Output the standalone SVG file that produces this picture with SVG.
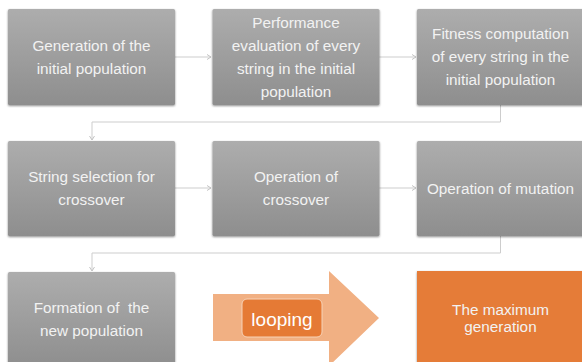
<svg xmlns="http://www.w3.org/2000/svg" width="582" height="362" viewBox="0 0 582 362">
  <defs>
    <linearGradient id="grayFill" x1="0" y1="0" x2="0" y2="1">
      <stop offset="0" stop-color="#adadad"/>
      <stop offset="1" stop-color="#8e8e8e"/>
    </linearGradient>
    <filter id="soft" x="-10%" y="-10%" width="120%" height="120%">
      <feGaussianBlur in="SourceAlpha" stdDeviation="1.2"/>
      <feOffset dx="0" dy="0.6" result="b"/>
      <feComponentTransfer><feFuncA type="linear" slope="0.45"/></feComponentTransfer>
      <feMerge><feMergeNode/><feMergeNode in="SourceGraphic"/></feMerge>
    </filter>
    <marker id="chev" markerWidth="8" markerHeight="8" refX="6" refY="4" orient="auto" markerUnits="userSpaceOnUse">
      <path d="M2,1.5 L6,4 L2,6.5" fill="none" stroke="#c4c4c4" stroke-width="1"/>
    </marker>
  </defs>
  <style>
    .box { fill: url(#grayFill); filter: url(#soft); }
    .lbl { font-family: "Liberation Sans", Arial, sans-serif; font-size: 15.3px; fill: #f2f2f2; text-anchor: middle; }
    .conn { fill: none; stroke: #cdcdcd; stroke-width: 1; marker-end: url(#chev); }
  </style>
  <rect width="582" height="362" fill="#ffffff"/>

  <g id="connectors">
    <path class="conn" d="M175,57 H211"/>
    <path class="conn" d="M379,57 H416"/>
    <path class="conn" d="M500.5,105 V122 H92 V140"/>
    <path class="conn" d="M175,188 H211"/>
    <path class="conn" d="M379,188 H416"/>
    <path class="conn" d="M500.5,236 V253 H92 V271"/>
  </g>

  <g id="n1">
    <rect class="box" x="8" y="9" width="167" height="96" rx="1.5"/>
    <text class="lbl" x="91.5" y="51">Generation of the</text>
    <text class="lbl" x="91.5" y="74">initial population</text>
  </g>
  <g id="n2">
    <rect class="box" x="212.5" y="9" width="167" height="96" rx="1.5"/>
    <text class="lbl" x="296" y="28">Performance</text>
    <text class="lbl" x="296" y="51">evaluation of every</text>
    <text class="lbl" x="296" y="74">string in the initial</text>
    <text class="lbl" x="296" y="97">population</text>
  </g>
  <g id="n3">
    <rect class="box" x="417" y="9" width="167" height="96" rx="1.5"/>
    <text class="lbl" x="500.5" y="39">Fitness computation</text>
    <text class="lbl" x="500.5" y="62">of every string in the</text>
    <text class="lbl" x="500.5" y="85">initial population</text>
  </g>

  <g id="n4">
    <rect class="box" x="8" y="141" width="167" height="95" rx="1.5"/>
    <text class="lbl" x="91.5" y="182">String selection for</text>
    <text class="lbl" x="91.5" y="205">crossover</text>
  </g>
  <g id="n5">
    <rect class="box" x="212.5" y="141" width="167" height="95" rx="1.5"/>
    <text class="lbl" x="296" y="182">Operation of</text>
    <text class="lbl" x="296" y="205">crossover</text>
  </g>
  <g id="n6">
    <rect class="box" x="417" y="141" width="167" height="95" rx="1.5"/>
    <text class="lbl" x="500.5" y="194">Operation of mutation</text>
  </g>

  <g id="n7">
    <rect class="box" x="8" y="272" width="167" height="95" rx="1.5"/>
    <text class="lbl" x="91.5" y="313" xml:space="preserve">Formation of  the</text>
    <text class="lbl" x="91.5" y="336">new population</text>
  </g>

  <g id="loop">
    <polygon points="213,294 329,294 329,271 379,318 329,366 329,341 213,341" fill="#f1b083"/>
    <rect x="242" y="299" width="80" height="38" rx="5" fill="#e57a35" stroke="#f7d3b8" stroke-width="1"/>
    <text x="282" y="326" font-family="'Liberation Sans', Arial, sans-serif" font-size="19" fill="#ffffff" text-anchor="middle">looping</text>
  </g>

  <g id="n8">
    <rect x="417" y="271" width="167" height="96" fill="#e57b37" filter="url(#soft)"/>
    <text class="lbl" x="500.5" y="315">The maximum</text>
    <text class="lbl" x="500.5" y="332">generation</text>
  </g>
</svg>
